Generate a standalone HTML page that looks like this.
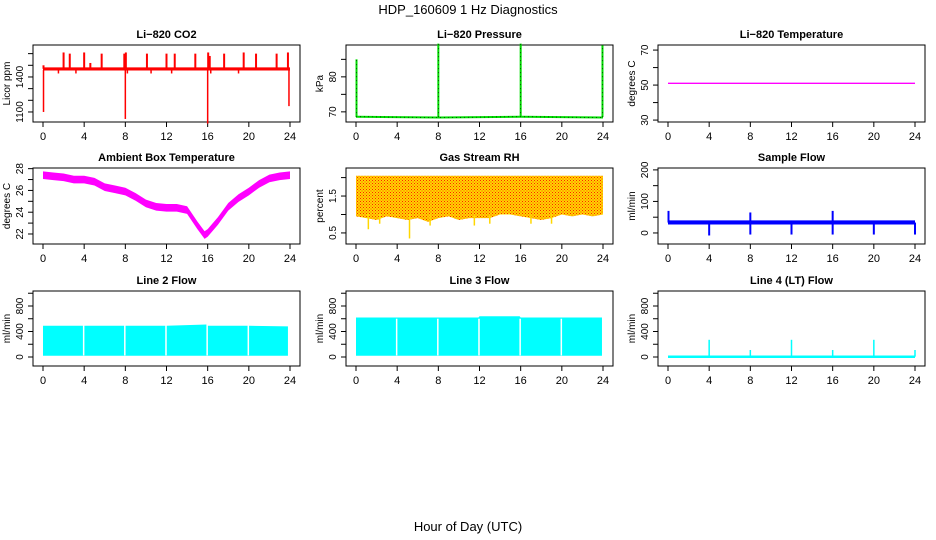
<!DOCTYPE html>
<html><head><meta charset="utf-8"><style>
body{margin:0;background:#fff}
svg{display:block;font-family:"Liberation Sans Narrow","Liberation Sans",sans-serif}
</style></head><body>
<svg id="c" width="936" height="540" viewBox="0 0 936 540" xmlns="http://www.w3.org/2000/svg">
<defs>
<pattern id="rhdots" width="3" height="3" patternUnits="userSpaceOnUse"><rect width="3" height="3" fill="#ffd700"/><rect x="0" y="0" width="1" height="1" fill="#ff2000"/><rect x="1.5" y="1.5" width="1" height="1" fill="#ff4000"/></pattern>
</defs>
<text x="468" y="14" font-size="13" text-anchor="middle">HDP_160609  1 Hz Diagnostics</text>
<text x="468" y="531" font-size="13" text-anchor="middle">Hour of Day (UTC)</text>
</svg>
<script>
const hourTicks=[0,4,8,12,16,20,24];
// CO2
const co2BandHours=[0,24];const co2Lo=[1455,1455];const co2Hi=[1482,1482];
const co2UpHours=[0.05,2,2.6,4,4.6,5.7,7.9,8.05,10.1,12,12.8,14.8,16.05,16.2,17.6,19.5,20.7,22.7,23.8];
const co2UpVals=[1500,1610,1600,1610,1520,1600,1600,1610,1600,1600,1600,1600,1610,1580,1600,1610,1600,1600,1610];
const co2DnHours=[0.05,1.5,3.2,8.0,8.2,10.5,12.5,16.0,16.3,19.0,23.9];
const co2DnVals=[1100,1430,1430,1040,1430,1430,1430,1000,1430,1430,1150];
// Pressure
const prHours=[0,0.1,8,8.1,16,16.1,24];const prVals=[68.6,68.6,68.4,68.4,68.6,68.6,68.4];
const prSpikeHours=[0.05,8.0,16.0,23.95];const prSpikeVals=[85,89.5,89.5,89];
// Li-820 temperature
const tHours=[0,24];const tVals=[51,51];
// Ambient
const ambHours=[0,1,2,3,4,5,6,7,8,9,10,11,12,13,14,15,15.7,16,17,18,19,20,21,22,23,24];
const ambVals=[27.4,27.3,27.2,27.0,27.0,26.8,26.3,26.1,25.9,25.4,24.8,24.5,24.4,24.4,24.2,22.8,21.9,22.1,23.2,24.5,25.3,25.9,26.6,27.1,27.3,27.4];
// RH
const rhHours=[0,1,2,3,4,5,6,7,8,9,10,11,12,13,14,15,16,17,18,19,20,21,22,23,24];
const rhLo=[0.95,0.9,0.85,0.95,0.9,0.85,0.9,0.8,0.9,0.95,0.85,0.9,0.9,0.9,1.0,1.0,0.95,0.9,0.85,0.9,1.0,0.95,1.0,0.95,1.0];
const rhHi=[2.05,2.05,2.05,2.05,2.05,2.05,2.05,2.05,2.05,2.05,2.05,2.05,2.05,2.05,2.05,2.05,2.05,2.05,2.05,2.05,2.05,2.05,2.05,2.05,2.05];
const rhDipHours=[1.2,2.3,5.2,7.2,11.5,13.0,17.0,19.0];const rhDipVals=[0.6,0.75,0.35,0.7,0.7,0.75,0.75,0.75];
// Sample flow
const sfHours=[0,24];const sfLo=[27,27];const sfHi=[40,40];
const sfSpikeHours=[0.05,4,8,8,12,16,16,20,24];const sfSpikeVals=[70,-8,65,-5,-5,70,-5,-5,-5];
// Line 2 / 3 / 4 flows
const l2Hours=[0,3.9,4.0,7.9,8.0,11.9,12.0,15.9,16.0,19.9,20.0,23.8];const l2Hi=[490,490,490,490,490,490,490,510,490,490,490,480];const l2Lo=[20,20,20,20,20,20,20,20,20,20,20,20];
const l3Hours=[0,3.9,4.0,7.9,8.0,11.9,12.0,15.9,16.0,19.9,20.0,23.9];const l3Hi=[620,620,620,620,620,620,640,640,620,620,620,620];const l3Lo=[20,20,20,20,20,20,20,20,20,20,20,20];
const gapHours=[3.95,7.95,11.95,15.95,19.95];
const l4Hours=[0,24];const l4Vals=[5,5];
const l4SpikeHours=[4,8,12,16,20,24];const l4SpikeVals=[270,110,270,110,270,110];

const svg=document.getElementById('c');const NS='http://www.w3.org/2000/svg';
function mk(tag,attrs,parent){const e=document.createElementNS(NS,tag);for(const k in attrs)e.setAttribute(k,attrs[k]);(parent||svg).appendChild(e);return e;}
const colsX=[33,346,658];const rowsY=[[45,122],[168,244],[291,366]];
function panel(c,r,ylim,yticks,ylabels,title,ylab,name){
  const L=colsX[c],R=L+267,T=rowsY[r][0],B=rowsY[r][1];
  const g=mk('g',{});
  
  
  const X=h=>L+10+h/24*247, Y=v=>B-(v-ylim[0])/(ylim[1]-ylim[0])*(B-T);
  const box=mk('rect',{x:L,y:T,width:R-L,height:B-T,fill:'none',stroke:'#000','stroke-width':1},g);
  
  const t=mk('text',{x:(L+R)/2,y:T-7,'font-size':11,'font-weight':'bold','text-anchor':'middle'},g);t.textContent=title;
  
  hourTicks.forEach(h=>{mk('line',{x1:X(h),x2:X(h),y1:B,y2:B+5,stroke:'#000'},g);
    const tl=mk('text',{x:X(h),y:B+18,'font-size':11,'text-anchor':'middle'},g);tl.textContent=h;
    });
  yticks.forEach(v=>{mk('line',{x1:L,x2:L-5,y1:Y(v),y2:Y(v),stroke:'#000'},g);});
  ylabels.forEach(v=>{const tl=mk('text',{x:L-10,y:Y(v),'font-size':10,'text-anchor':'middle',transform:`rotate(-90 ${L-10} ${Y(v)})`},g);tl.textContent=v;
    });
  const yl=mk('text',{x:L-23,y:(T+B)/2,'font-size':10,'text-anchor':'middle',transform:`rotate(-90 ${L-23} ${(T+B)/2})`},g);yl.textContent=ylab;
  
  return {g,X,Y};
}
function band(p,hs,lo,hi,fill,name){
  let d='M'+hs.map((h,i)=>p.X(h)+','+p.Y(hi[i])).join('L');
  for(let i=hs.length-1;i>=0;i--)d+='L'+p.X(hs[i])+','+p.Y(lo[i]);
  const e=mk('path',{d:d+'Z',fill:fill,stroke:'none'},p.g);return e;}
function spikes(p,hs,vs,base,col,w,name,dash){hs.forEach((h,i)=>{const e=mk('line',{x1:p.X(h),x2:p.X(h),y1:p.Y(base),y2:p.Y(vs[i]),stroke:col,'stroke-width':w},p.g);
  if(dash)e.setAttribute('stroke-dasharray',dash);
  });}
function line(p,hs,vs,col,w,name,dash){const e=mk('polyline',{points:hs.map((h,i)=>p.X(h)+','+p.Y(vs[i])).join(' '),fill:'none',stroke:col,'stroke-width':w},p.g);
  if(dash)e.setAttribute('stroke-dasharray',dash);return e;}

let p=panel(0,0,[1014,1674],[1100,1200,1300,1400,1500,1600],[1100,1400],'Li−820 CO2','Licor ppm','co2');
band(p,co2BandHours,co2Lo,co2Hi,'#ff0000','co2-band');
spikes(p,co2UpHours,co2UpVals,1470,'#ff0000',2,'co2-spike');
spikes(p,co2DnHours,co2DnVals,1460,'#ff0000',1.5,'co2-spike');

p=panel(1,0,[67.1,89.1],[70,75,80,85],[70,80],'Li−820 Pressure','kPa','pressure');
line(p,prHours,prVals,'#00dd00',2,'pressure-line');
line(p,prHours,prVals,'#000',0.6,'pressure-line-dotted','1 3');
spikes(p,prSpikeHours,prSpikeVals,68.5,'#00dd00',2,'pressure-spike');
spikes(p,prSpikeHours,prSpikeVals,68.5,'#000',0.6,'pressure-spike-dotted','1 3');

p=panel(2,0,[28.9,72.9],[30,40,50,60,70],[30,50,70],'Li−820 Temperature','degrees C','li820-temp');
line(p,tHours,tVals,'#ff00ff',1.3,'li820-temp-line');

p=panel(0,1,[21.08,28.06],[22,23,24,25,26,27,28],[22,24,26,28],'Ambient Box Temperature','degrees C','ambient');
band(p,ambHours,ambVals.map(v=>v-0.35),ambVals.map(v=>v+0.35),'#ff00ff','ambient-band');

p=panel(1,1,[0.2,2.26],[0.5,1.0,1.5,2.0],[0.5,1.5],'Gas Stream RH','percent','rh');
band(p,rhHours,rhLo,rhHi,'url(#rhdots)','rh-band');
spikes(p,rhDipHours,rhDipVals,1.0,'#ffd700',1.5,'rh-dip');

p=panel(2,1,[-35,206],[0,50,100,150,200],[0,100,200],'Sample Flow','ml/min','sample-flow');
band(p,sfHours,sfLo,sfHi,'#0000ff','sample-flow-band');
spikes(p,sfSpikeHours,sfSpikeVals,33,'#0000ff',2,'sample-flow-spike');

const flowTicks=[0,200,400,600,800,1000];
p=panel(0,2,[-141,1035],flowTicks,[0,400,800],'Line 2 Flow','ml/min','line2');
band(p,l2Hours,l2Lo,l2Hi,'#00ffff','line2-band');
spikes(p,gapHours,gapHours.map(()=>520),25,'#fff',1.5,'line2-gap');

p=panel(1,2,[-141,1035],flowTicks,[0,400,800],'Line 3 Flow','ml/min','line3');
band(p,l3Hours,l3Lo,l3Hi,'#00ffff','line3-band');
spikes(p,gapHours,gapHours.map(()=>600),25,'#fff',1.5,'line3-gap');

p=panel(2,2,[-141,1035],flowTicks,[0,400,800],'Line 4 (LT) Flow','ml/min','line4');
line(p,l4Hours,l4Vals,'#00ffff',2.5,'line4-line');
spikes(p,l4SpikeHours,l4SpikeVals,5,'#00ffff',1.5,'line4-spike');
</script>
</body></html>
